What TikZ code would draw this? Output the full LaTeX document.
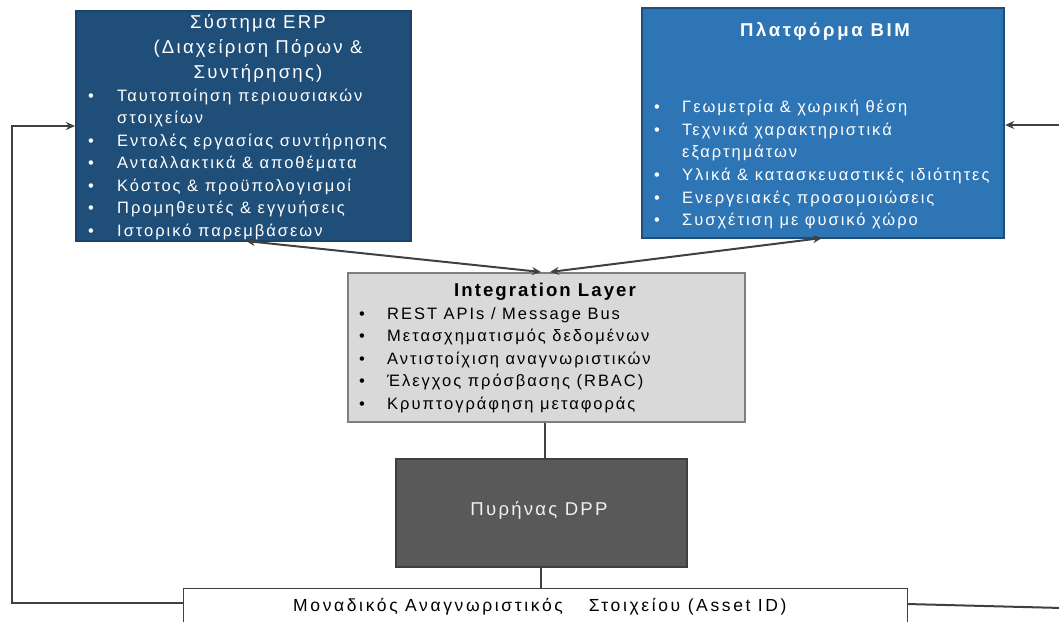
\documentclass[tikz,border=0pt]{standalone}
\usepackage{fontspec}
\setmainfont{Liberation Sans}
% spaced variants of the sans face for the various labels
\newfontfamily\lsbody[LetterSpace=12]{Liberation Sans}
\newfontfamily\lsbimtitle[LetterSpace=14]{Liberation Sans}
\newfontfamily\lsinttitle[LetterSpace=11]{Liberation Sans}
\newfontfamily\lsid[LetterSpace=15]{Liberation Sans}
\usetikzlibrary{arrows.meta}

\definecolor{erpfill}{HTML}{1F4E79}
\definecolor{erpline}{HTML}{1B4269}
\definecolor{bimfill}{HTML}{2E75B6}
\definecolor{bimline}{HTML}{1F4E79}
\definecolor{intfill}{HTML}{D9D9D9}
\definecolor{intline}{HTML}{7F7F7F}
\definecolor{dppfill}{HTML}{595959}
\definecolor{dppline}{HTML}{3F3F3F}
\definecolor{connc}{HTML}{404040}

\tikzset{
  box/.style={anchor=north west, inner sep=0pt, line width=1.5pt},
  erpbox/.style={box, fill=erpfill, draw=erpline},
  bimbox/.style={box, fill=bimfill, draw=bimline, line width=2.2pt},
  intbox/.style={box, fill=intfill, draw=intline, line width=2.2pt},
  dppbox/.style={box, fill=dppfill, draw=dppline},
  idbox/.style={box, fill=white, draw=connc, line width=1pt},
  wtxt/.style={text=white, inner sep=0pt, font=\lsbody\fontsize{16.5}{16.5}\selectfont},
  ktxt/.style={text=black, inner sep=0pt, font=\lsbody\fontsize{16.5}{16.5}\selectfont},
  wtitle/.style={text=white, inner sep=0pt, anchor=base, font=\lsbody\fontsize{18.6}{18.6}\selectfont},
  conn/.style={draw=connc, line width=2pt},
  arr/.style={-{Stealth[length=9pt,width=8pt]}},
  biarr/.style={{Stealth[length=9pt,width=8pt]}-{Stealth[length=9pt,width=8pt]}}
}

\begin{document}
\begin{tikzpicture}[x=1pt,y=-1pt]
\useasboundingbox (0,0) rectangle (1059,621);
\begin{scope}
\clip (0,0) rectangle (1059,621);

% --- boxes
\node[erpbox, minimum width=335pt, minimum height=230pt] (erp) at (75,10) {};
\node[bimbox, minimum width=362pt, minimum height=230pt] (bim) at (641,7) {};
\node[intbox, minimum width=397pt, minimum height=149pt] (int) at (347,272) {};
\node[dppbox, minimum width=291pt, minimum height=108pt] (dpp) at (395,458) {};
\node[idbox, minimum width=724pt, minimum height=50pt] (aid) at (183,588) {};

% --- ERP text
\node[wtitle] (erpt1) at (258,28.3) {Σύστημα ERP};
\node[wtitle] (erpt2) at (258,53.3) {(Διαχείριση Πόρων \&};
\node[wtitle] (erpt3) at (258,78.3) {Συντήρησης)};
\foreach \y/\t [count=\i] in {101/{Ταυτοποίηση περιουσιακών}, 146/{Εντολές εργασίας συντήρησης},
  168.5/{Ανταλλακτικά \& αποθέματα}, 191/{Κόστος \& προϋπολογισμοί},
  213.5/{Προμηθευτές \& εγγυήσεις}, 236/{Ιστορικό παρεμβάσεων}}{
  \node[wtxt, anchor=base] (erpb\i) at (91,\y) {•};
  \node[wtxt, anchor=base west] (erpl\i) at (117,\y) {\t};
}
\node[wtxt, anchor=base west] (erpl1b) at (117,123.5) {στοιχείων};

% --- BIM text
\node[wtxt, anchor=base, font=\lsbimtitle\bfseries\fontsize{18.6}{18.6}\selectfont] (bimt) at (825,36.5) {Πλατφόρμα BIM};
\foreach \y/\t [count=\i] in {112/{Γεωμετρία \& χωρική θέση}, 135/{Τεχνικά χαρακτηριστικά},
  180/{Υλικά \& κατασκευαστικές ιδιότητες}, 203/{Ενεργειακές προσομοιώσεις},
  225/{Συσχέτιση με φυσικό χώρο}}{
  \node[wtxt, anchor=base] (bimb\i) at (657,\y) {•};
  \node[wtxt, anchor=base west] (biml\i) at (682,\y) {\t};
}
\node[wtxt, anchor=base west] (biml2b) at (682,157.5) {εξαρτημάτων};

% --- integration layer text
\node[ktxt, anchor=base, font=\lsinttitle\bfseries\fontsize{18.6}{18.6}\selectfont] (intt) at (545,296.5) {Integration Layer};
\foreach \y/\t [count=\i] in {319/{REST APIs / Message Bus}, 341.5/{Μετασχηματισμός δεδομένων},
  364/{Αντιστοίχιση αναγνωριστικών}, 386.5/{Έλεγχος πρόσβασης (RBAC)},
  409/{Κρυπτογράφηση μεταφοράς}}{
  \node[ktxt, anchor=base] (intb\i) at (362,\y) {•};
  \node[ktxt, anchor=base west] (intl\i) at (387,\y) {\t};
}

% --- core and identifier text
\node[wtitle, text=white!94!black] (dppt) at (539,515) {Πυρήνας DPP};
\node[ktxt, anchor=base west, font=\lsid\fontsize{17.5}{17.5}\selectfont] (aidt) at (293,611)
  {Μοναδικός Αναγνωριστικός\hspace{26pt}Στοιχείου (Asset ID)};

% --- connector end points
\coordinate (erpS) at (246,241);
\coordinate (intNL) at (541,272);
\coordinate (bimS) at (822,238);
\coordinate (intNR) at (550,272);
\coordinate (lftTop) at (12,126);
\coordinate (lftBot) at (12,603);
\coordinate (aidW) at (183,603);
\coordinate (aidE) at (907,604);
\coordinate (rgtBot) at (1062,608);
\coordinate (rgtTop) at (1062,125);

% --- connectors
\draw[conn, biarr] (erpS) -- (intNL);
\draw[conn, biarr] (bimS) -- (intNR);
\draw[conn] (int.south -| 545,0) -- (dpp.north -| 545,0);
\draw[conn] (dpp.south -| 541,0) -- (aid.north -| 541,0);
\draw[conn, arr] (aidW) -- (lftBot) -- (lftTop) -- (erp.west |- lftTop);
\draw[conn] (aidE) -- (rgtBot);
\draw[conn, arr] (rgtTop) -- (bim.east |- rgtTop);
\end{scope}
\end{tikzpicture}
\end{document}
